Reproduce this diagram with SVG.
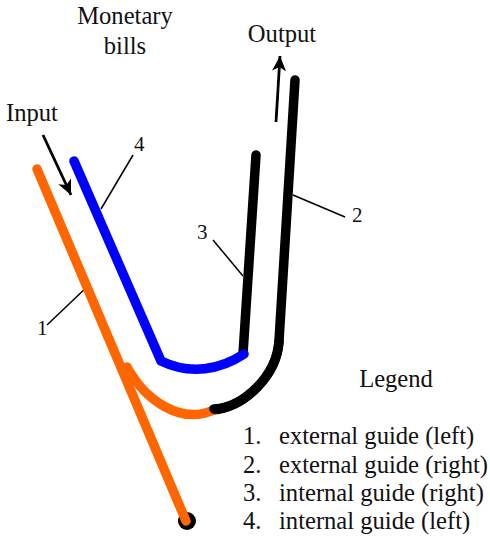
<svg xmlns="http://www.w3.org/2000/svg" width="490" height="538" viewBox="0 0 490 538">
<style>
text{font-family:"Liberation Serif","Times New Roman",serif;fill:#111;font-size:24.6px}
.n{font-size:21px}
.g{fill:none;stroke-width:9.5;stroke-linecap:round;stroke-linejoin:round}
.l{fill:none;stroke:#000;stroke-width:1.5}
.a{fill:none;stroke:#000;stroke-width:2.8}
</style>
<defs><marker id="ah" markerUnits="userSpaceOnUse" markerWidth="16" markerHeight="16" refX="15" refY="7" orient="auto"><path d="M0 0L15 7L0 14L4 7Z" fill="#000"/></marker></defs>
<g id="connectors">
<path class="a" d="M43 135L71 195" marker-end="url(#ah)"/>
<path class="a" d="M276 122L280 56" marker-end="url(#ah)"/>
<path class="l" d="M133 155L101 209"/>
<path class="l" d="M293 195L345 217"/>
<path class="l" d="M213 240L243 276"/>
<path class="l" d="M89 285L47 325"/>
</g>
<g id="node-2"><path class="g" stroke="#000" d="M295 80L279 341C277 375 245 407 213 410"/></g>
<g id="node-1"><circle cx="187" cy="521" r="9" fill="#000"/><path class="g" stroke="#ff6600" d="M37 169L186 521"/><path class="g" stroke="#ff6600" d="M127 367C145 400 180 425 214 410"/></g>
<g id="node-2b"><path class="g" stroke="#000" d="M214 409C245 407 277 375 279 341"/></g>
<g id="node-3"><path class="g" stroke="#000" d="M256 155L243 354"/></g>
<g id="node-4"><path class="g" stroke="#0000ff" d="M74 161L161 361C190 375 220 370 244 354"/></g>
<g id="labels">
<text x="125" y="24" text-anchor="middle">Monetary</text>
<text x="125" y="54" text-anchor="middle">bills</text>
<text x="282" y="42" text-anchor="middle">Output</text>
<text x="32" y="121" text-anchor="middle">Input</text>
<text class="n" x="134" y="151">4</text>
<text class="n" x="352" y="222">2</text>
<text class="n" x="197" y="239">3</text>
<text class="n" x="37" y="335">1</text>
<text x="396" y="387" text-anchor="middle">Legend</text>
<text x="243" y="444">1.</text><text x="279" y="444">external guide (left)</text>
<text x="243" y="473">2.</text><text x="279" y="473">external guide (right)</text>
<text x="243" y="501">3.</text><text x="279" y="501">internal guide (right)</text>
<text x="243" y="529">4.</text><text x="279" y="529">internal guide (left)</text>
</g>
</svg>
